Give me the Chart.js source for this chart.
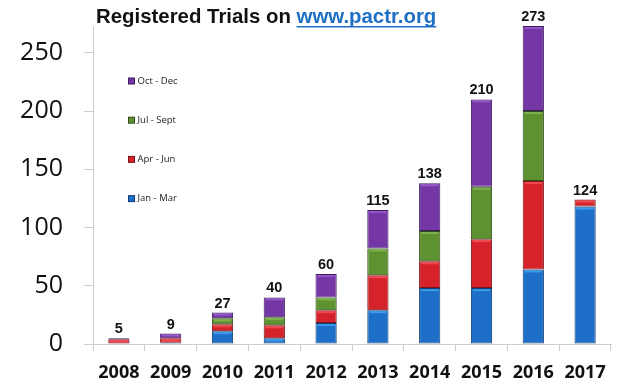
<!doctype html>
<html lang="en">
<head>
  <meta charset="utf-8">
  <title>Registered Trials on www.pactr.org</title>
  <script src="https://cdn.jsdelivr.net/npm/chart.js@4.4.1/dist/chart.umd.min.js"></script>
  <style>
    html, body { margin: 0; padding: 0; background: #fff; }
    #wrap { position: relative; width: 620px; height: 390px; }
  </style>
</head>
<body>
  <div id="wrap"><canvas id="canvas_trials" width="620" height="390"></canvas></div>

  <script type="text/javascript">

    // values
    const years = ['2008', '2009', '2010', '2011', '2012', '2013', '2014', '2015', '2016', '2017'];
    const jan_mar = [0, 1, 11, 5, 18, 29, 48, 48, 64, 118];
    const apr_jun = [4, 4, 6, 11, 11, 30, 23, 42, 76, 6];
    const jul_sep = [0, 0, 5, 7, 11, 23, 26, 45, 60, 0];
    const oct_dec = [1, 4, 5, 17, 20, 33, 41, 75, 73, 0];
    const totals = [5, 9, 27, 40, 60, 115, 138, 210, 273, 124];
    const y_ticks = [0, 50, 100, 150, 200, 250];

    const title_plain = 'Registered Trials on ';
    const title_link = 'www.pactr.org';

    const ctx_trials = document.getElementById('canvas_trials');

    // bevel strip on top of every segment, totals above the bars
    const extras = {
      id: 'extras',
      afterDatasetsDraw(chart) {
        const c = chart.ctx;
        const y = chart.scales.y;
        c.save();
        chart.data.datasets.forEach((ds, d) => {
          chart.getDatasetMeta(d).data.forEach((bar) => {
            const h = bar.base - bar.y;
            if (h < 3) return;
            const half = bar.width / 2;
            c.fillStyle = ds.hoverBackgroundColor;
            c.fillRect(bar.x - half + 2, bar.y + 1, bar.width - 4, Math.min(2, h - 2));
          });
        });
        const meta = chart.getDatasetMeta(0);
        c.fillStyle = '#111';
        c.font = 'bold 14.5px "Liberation Sans", Arial, sans-serif';
        c.textAlign = 'center';
        c.textBaseline = 'alphabetic';
        totals.forEach((t, i) => {
          c.fillText(String(t), meta.data[i].x, y.getPixelForValue(t) - 5);
        });
        c.restore();
      },
      afterDraw(chart) {
        const c = chart.ctx;
        c.save();
        // title
        c.font = 'bold 20.4px "Liberation Sans", Arial, sans-serif';
        c.textBaseline = 'alphabetic';
        c.textAlign = 'left';
        const x0 = 96;
        const base = 23;
        c.fillStyle = '#111';
        c.fillText(title_plain, x0, base);
        const w1 = c.measureText(title_plain).width;
        c.fillStyle = '#1f6fc4';
        c.fillText(title_link, x0 + w1, base);
        const w2 = c.measureText(title_link).width;
        c.fillRect(x0 + w1, base + 3, w2, 1.5);

        // legend, top item first
        const items = chart.data.datasets.slice().reverse();
        c.font = '9.5px "Open Sans", sans-serif';
        c.textBaseline = 'middle';
        items.forEach((ds, k) => {
          const cy = 81 + k * 39.2;
          c.fillStyle = ds.borderColor;
          c.fillRect(128, cy - 3.5, 7, 7);
          c.fillStyle = ds.backgroundColor;
          c.fillRect(129, cy - 2.5, 5, 5);
          c.fillStyle = '#222';
          c.fillText(ds.label, 137.5, cy);
        });
        c.restore();
      }
    };

    function bar_set(label, data, fill, edge, light) {
      return {
        label: label, data: data, backgroundColor: fill, borderColor: edge, hoverBackgroundColor: light,
        borderWidth: (ctx) => (ctx.raw ? 1 : 0),
        borderSkipped: false, barPercentage: 0.41, categoryPercentage: 1
      };
    }

    const chart_trials = new Chart(ctx_trials, {
      type: 'bar',
      data: {
        labels: years,
        datasets: [
          bar_set('Jan - Mar', jan_mar, '#1e6fc8', '#0f3f78', '#3c9ae8'),
          bar_set('Apr - Jun', apr_jun, '#d5222b', '#7a1216', '#ef4a52'),
          bar_set('Jul - Sept', jul_sep, '#5e9130', '#2f4d17', '#7fb24a'),
          bar_set('Oct - Dec', oct_dec, '#7537a6', '#3f1a60', '#9457c6')
        ]
      },
      options: {
        responsive: false,
        animation: false,
        devicePixelRatio: 1,
        events: [],
        layout: { padding: { top: 26, right: 9, left: 0, bottom: 0 } },
        plugins: { legend: { display: false }, title: { display: false }, tooltip: { enabled: false } },
        scales: {
          x: {
            stacked: true,
            afterFit(scale) { scale.height = 46; scale.paddingLeft = 0; scale.paddingRight = 0; },
            grid: { drawOnChartArea: false, tickLength: 7, color: '#cccccc', offset: true },
            border: { color: '#cccccc' },
            ticks: { color: '#111', padding: 11, font: { family: '"Open Sans", sans-serif', size: 18, weight: 'bold' } }
          },
          y: {
            stacked: true,
            min: 0,
            max: 273,
            afterFit(scale) { scale.width = 93; scale.paddingTop = 0; scale.paddingBottom = 0; },
            afterBuildTicks(scale) { scale.ticks = y_ticks.map(v => ({ value: v })); },
            grid: { drawOnChartArea: false, tickLength: 9, color: '#cccccc' },
            border: { color: '#cccccc' },
            ticks: { color: '#111', padding: 21, font: { family: '"Open Sans", sans-serif', size: 25 } }
          }
        }
      },
      plugins: [extras]
    });
  </script>
</body>
</html>
